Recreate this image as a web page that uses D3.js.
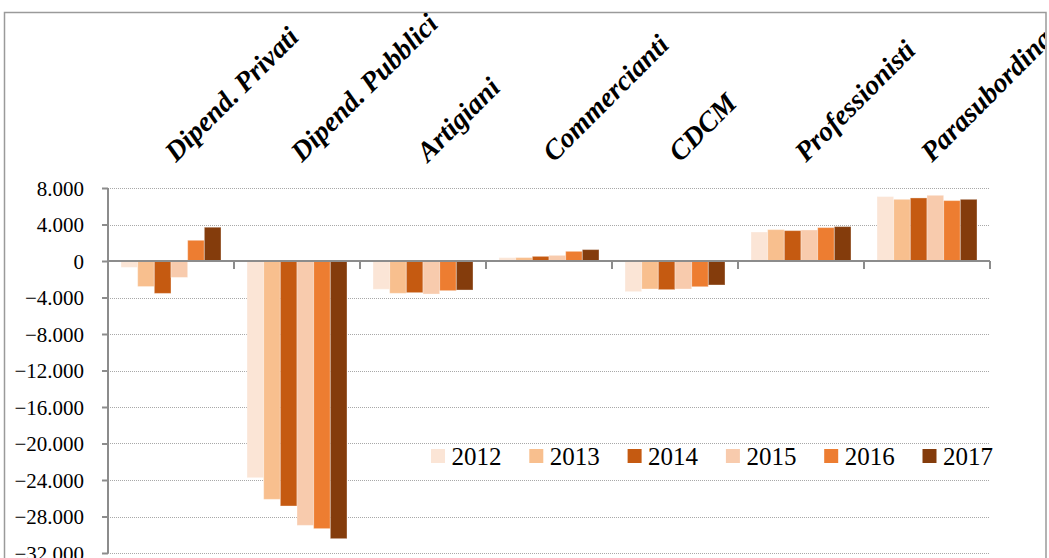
<!DOCTYPE html>
<html>
<head>
<meta charset="utf-8">
<script src="https://cdn.jsdelivr.net/npm/d3@7"></script>
<style>
  body { margin: 0; background: #fff; }
  svg { display: block; }
  svg text { font-family: 'Liberation Serif', 'Times New Roman', serif; fill: #000; }
</style>
</head>
<body>
<svg id="chart" width="1049" height="558"></svg>
<script>
// data
const categories = ['Dipend. Privati', 'Dipend. Pubblici', 'Artigiani', 'Commercianti', 'CDCM', 'Professionisti', 'Parasubordinati'];
const years = ['2012', '2013', '2014', '2015', '2016', '2017'];
const values2012 = [-700, -23750, -3100, 370, -3360, 3180, 7060];
const values2013 = [-2800, -26120, -3540, 380, -3070, 3440, 6760];
const values2014 = [-3550, -26850, -3470, 510, -3140, 3330, 6910];
const values2015 = [-1800, -28970, -3620, 620, -3070, 3400, 7200];
const values2016 = [2270, -29330, -3250, 1060, -2820, 3660, 6620];
const values2017 = [3700, -30430, -3180, 1250, -2630, 3770, 6760];
const yTicks = [8000, 4000, 0, -4000, -8000, -12000, -16000, -20000, -24000, -28000, -32000];
const colors = ['#fbe5d6', '#f8bf8e', '#c55a11', '#f8cbad', '#ed7d31', '#843c0c'];

const series = [values2012, values2013, values2014, values2015, values2016, values2017];
const rows = [];
categories.forEach((c, i) => {
  years.forEach((y, j) => rows.push({ cat: c, year: y, value: series[j][i] }));
});

const svg = d3.select('#chart');
const axisGrey = '#8c8c8c';

const x0 = d3.scaleBand().domain(categories).range([108, 990]).padding(0);
const x1 = d3.scaleBand().domain(years).range([0, x0.bandwidth()]).paddingOuter(0.78);
const y = d3.scaleLinear().domain([-32000, 8000]).range([553, 188]);
const color = d3.scaleOrdinal().domain(years).range(colors);
const fmt = v => d3.format(',')(v).replace(/,/g, '.');

// chart frame
svg.append('rect')
  .attr('x', 4.5).attr('y', 12.5)
  .attr('width', 1041.5).attr('height', 600)
  .attr('fill', 'none')
  .attr('stroke', '#9a9a9a')
  .attr('stroke-width', 1.5);

svg.append('clipPath').attr('id', 'frameClip')
  .append('rect').attr('x', 5).attr('y', 13).attr('width', 1040).attr('height', 600);

// gridlines
svg.append('g')
  .selectAll('line')
  .data(yTicks.filter(t => t !== 0))
  .join('line')
    .attr('x1', 108).attr('x2', 990)
    .attr('y1', d => Math.round(y(d)) + 0.5)
    .attr('y2', d => Math.round(y(d)) + 0.5)
    .attr('stroke', '#a8a8a8')
    .attr('stroke-dasharray', '1,1');

// bars
svg.append('g')
  .selectAll('rect')
  .data(rows)
  .join('rect')
    .attr('x', d => x0(d.cat) + x1(d.year))
    .attr('width', x1.bandwidth())
    .attr('y', d => y(Math.max(0, d.value)))
    .attr('height', d => Math.abs(y(d.value) - y(0)))
    .attr('fill', d => color(d.year))
    .attr('stroke', 'rgba(255,255,255,0.35)')
    .attr('stroke-width', 1);

// y axis
const yAxis = svg.append('g').attr('transform', 'translate(108,0)')
  .call(d3.axisLeft(y).tickValues(yTicks).tickSize(6).tickPadding(18).tickFormat(fmt))
  .attr('font-family', null);
yAxis.select('.domain').attr('stroke', axisGrey).attr('stroke-width', 2).attr('d', `M0,${y(8000)}V${y(-32000)}`);
yAxis.selectAll('.tick line').attr('stroke', axisGrey).attr('stroke-width', 2);
yAxis.selectAll('.tick text')
  .attr('font-size', 21)
  .attr('dy', '0.34em');

// category axis at zero
const bounds = categories.map(c => x0(c)).concat([990]);
const xAxis = svg.append('g');
xAxis.append('line')
  .attr('x1', 108).attr('x2', 990)
  .attr('y1', y(0)).attr('y2', y(0))
  .attr('stroke', axisGrey).attr('stroke-width', 2);
xAxis.selectAll('.tk')
  .data(bounds)
  .join('line')
    .attr('class', 'tk')
    .attr('x1', d => d).attr('x2', d => d)
    .attr('y1', y(0)).attr('y2', y(0) + 8)
    .attr('stroke', axisGrey).attr('stroke-width', 2);

// rotated category labels at the top
svg.append('g').attr('clip-path', 'url(#frameClip)')
  .selectAll('text')
  .data(categories)
  .join('text')
    .attr('transform', d => `translate(${x0(d) + x0.bandwidth() / 2 + 5},163) rotate(-45)`)
    .attr('font-size', 28)
    .attr('font-weight', 'bold')
    .attr('font-style', 'italic')
    .text(d => d);

// legend
const legend = svg.append('g').attr('transform', 'translate(431,449)')
  .selectAll('g')
  .data(years)
  .join('g')
    .attr('transform', (d, i) => `translate(${i * 98.3},0)`);
legend.append('rect')
  .attr('width', 14).attr('height', 14)
  .attr('fill', d => color(d));
legend.append('text')
  .attr('x', 20.5).attr('y', 15.5)
  .attr('font-size', 25)
  .text(d => d);
</script>
</body>
</html>
